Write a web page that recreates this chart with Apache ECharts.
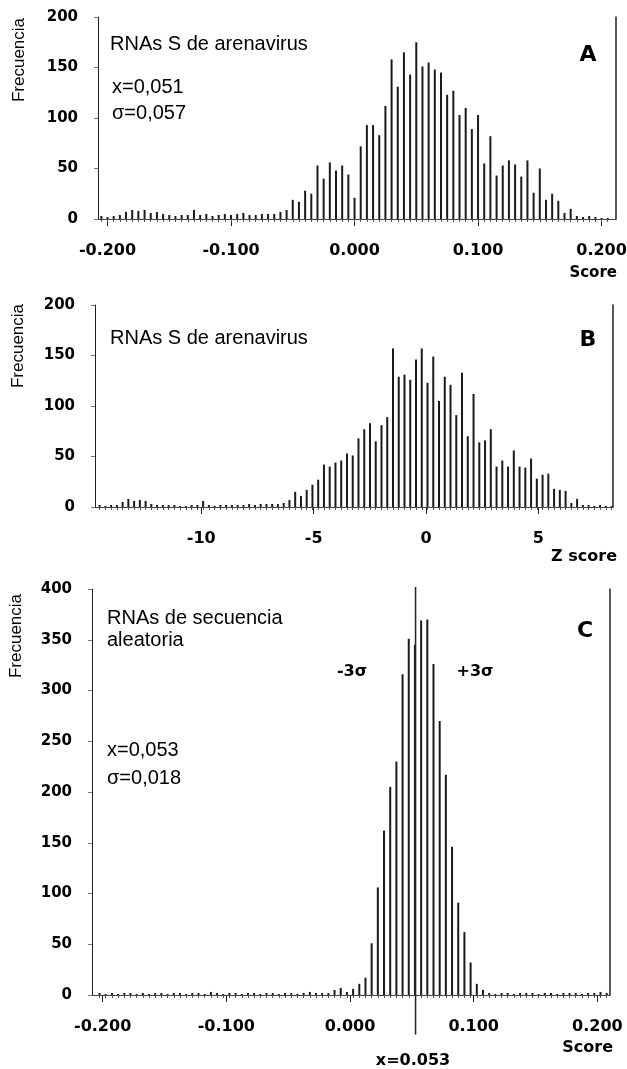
<!DOCTYPE html>
<html>
<head>
<meta charset="utf-8">
<script src="https://cdn.jsdelivr.net/npm/echarts@6.0.0/dist/echarts.min.js"></script>
<style>
    html, body { margin: 0; padding: 0; background: #fff; }
    #chart { width: 627px; height: 1069px; }
</style>
</head>
<body>
<div id="chart"></div>
<script>
// ---- data ----
// panel A: score histogram, arenavirus S RNAs (bins 0.005 wide)
const binStartA = -0.205;
const binStepA = 0.005;
const countsA = [
    3, 2, 3, 4, 7, 9, 8, 9, 6, 7,
    5, 4, 3, 4, 4, 9, 4, 5, 3, 4,
    5, 4, 5, 6, 4, 4, 5, 5, 5, 7,
    9, 19, 17, 28, 25, 53, 40, 56, 48, 53,
    44, 21, 72, 93, 93, 83, 112, 158, 131, 165,
    143, 175, 151, 155, 148, 145, 123, 127, 103, 110,
    89, 103, 55, 82, 43, 53, 58, 54, 42, 58,
    26, 50, 19, 25, 18, 6, 10, 3, 2, 3,
    2, 1, 1
];

// panel B: Z score histogram, arenavirus S RNAs
const binStartB = -14.526;
const binStepB = 0.256;
const countsB = [
    2, 1, 2, 2, 5, 8, 6, 7, 6, 3,
    2, 2, 2, 2, 1, 1, 2, 2, 6, 2,
    1, 2, 2, 2, 2, 2, 3, 2, 3, 3,
    3, 3, 4, 7, 15, 11, 17, 22, 27, 42,
    40, 44, 46, 53, 51, 68, 77, 83, 65, 81,
    89, 157, 129, 131, 126, 146, 157, 123, 149, 105,
    129, 121, 91, 133, 70, 112, 64, 66, 77, 40,
    46, 40, 56, 40, 39, 48, 28, 32, 33, 18,
    17, 16, 4, 8, 2, 2, 1, 2, 1, 1
];

// panel C: score histogram, random sequence RNAs
const binStartC = -0.2025;
const binStepC = 0.005;
const countsC = [
    2, 1, 2, 1, 2, 2, 1, 2, 1, 2,
    2, 1, 2, 2, 1, 2, 2, 1, 3, 2,
    1, 2, 2, 1, 2, 2, 1, 2, 2, 1,
    2, 2, 1, 2, 3, 2,
    2, 2, 5, 7, 3, 6, 11, 17, 51, 106,
    162, 205, 230, 316, 351, 345, 369, 370, 326, 270,
    217, 146, 91, 62, 32, 11, 5,
    2, 1, 2, 2, 1, 2, 2, 2, 1, 2,
    2, 1, 2, 2, 2, 1, 2, 2, 3, 2
];
const meanC = 0.053;
const meanLineSpanC = [402, -39];

// tick labels
const scoreTicks = [-0.2, -0.1, 0, 0.1, 0.2];
const scoreTickLabels = ['-0.200', '-0.100', '0.000', '0.100', '0.200'];
const zTicks = [-10, -5, 0, 5];
const zTickLabels = ['-10', '-5', '0', '5'];

// ---- helpers ----
const TICK_FONT = '"DejaVu Sans", sans-serif';
const TEXT_FONT = '"Liberation Sans", Arial, sans-serif';

function binCentres(start, step, n) {
    return Array.from({ length: n }, (_, i) => +(start + i * step).toFixed(4));
}

function pairs(xs, ys) {
    return xs.map((x, i) => [x, ys[i]]);
}

function labelFor(values, labels) {
    return v => {
        let i = values.findIndex(t => Math.abs(t - v) < 1e-9);
        return i >= 0 ? labels[i] : '';
    };
}

const xsA = binCentres(binStartA, binStepA, countsA.length);
const xsB = binCentres(binStartB, binStepB, countsB.length);
const xsC = binCentres(binStartC, binStepC, countsC.length);

// main x axis (labels + long ticks) and a second one carrying one short tick per bin
function xAxes(g, min, max, ticks, labels, bins) {
    return [{
        type: 'value', gridIndex: g, min: min, max: max, position: 'bottom',
        axisLine: { show: true, onZero: false, lineStyle: { color: '#444', width: 1 } },
        axisTick: { show: true, customValues: ticks, length: 7, lineStyle: { color: '#222' } },
        axisLabel: {
            customValues: ticks, formatter: labelFor(ticks, labels), margin: 24,
            fontFamily: TICK_FONT, fontWeight: 'bold', fontSize: 16, color: '#000'
        },
        splitLine: { show: false }
    }, {
        type: 'value', gridIndex: g, min: min, max: max, position: 'bottom',
        axisLine: { show: false, onZero: false },
        axisTick: { show: true, customValues: bins, length: 3, lineStyle: { color: '#555' } },
        axisLabel: { show: false },
        splitLine: { show: false }
    }];
}

function yAxes(g, max) {
    return [{
        type: 'value', gridIndex: g, min: 0, max: max, interval: 50, position: 'left',
        axisLine: { show: true, onZero: false, lineStyle: { color: '#222', width: 1 } },
        axisTick: { show: true, length: 4, lineStyle: { color: '#777' } },
        axisLabel: { margin: 20, fontFamily: TICK_FONT, fontWeight: 'bold', fontSize: 15, color: '#000' },
        splitLine: { show: false }
    }, {
        type: 'value', gridIndex: g, min: 0, max: max, position: 'right',
        axisLine: { show: true, onZero: false, lineStyle: { color: '#222', width: 1.5 } },
        axisTick: { show: false },
        axisLabel: { show: false },
        splitLine: { show: false }
    }];
}

function bars(g, data) {
    return {
        type: 'bar', xAxisIndex: g * 2, yAxisIndex: g * 2, data: data,
        barWidth: 2, itemStyle: { color: '#1a1a1a' }, silent: true
    };
}

function text(x, y, str, opts) {
    return {
        type: 'text', x: x, y: y, silent: true, rotation: (opts && opts.rotation) || 0,
        style: Object.assign({
            text: str, fill: '#000', fontFamily: TEXT_FONT, fontSize: 20,
            align: 'left', verticalAlign: 'middle'
        }, opts && opts.style)
    };
}

const bold = (size, align) => ({ fontFamily: TICK_FONT, fontWeight: 'bold', fontSize: size, align: align || 'center' });

// ---- chart ----
const chart = echarts.init(document.getElementById('chart'), null, { renderer: 'canvas' });

chart.setOption({
    animation: false,
    backgroundColor: '#fff',
    grid: [
        { left: 98, right: 11, top: 17, bottom: 850, outerBoundsMode: 'none' },
        { left: 95, right: 14, top: 305, bottom: 562, outerBoundsMode: 'none' },
        { left: 92, right: 17, top: 589, bottom: 74, outerBoundsMode: 'none' }
    ],
    xAxis: [
        ...xAxes(0, -0.2077, 0.2117, scoreTicks, scoreTickLabels, xsA),
        ...xAxes(1, -14.73, 8.32, zTicks, zTickLabels, xsB),
        ...xAxes(2, -0.2086, 0.2102, scoreTicks, scoreTickLabels, xsC)
    ],
    yAxis: [
        ...yAxes(0, 200),
        ...yAxes(1, 200),
        ...yAxes(2, 400)
    ],
    series: [
        bars(0, pairs(xsA, countsA)),
        bars(1, pairs(xsB, countsB)),
        bars(2, pairs(xsC, countsC)),
        {
            // mean line of panel C, runs past the axis down to its label
            type: 'line', xAxisIndex: 4, yAxisIndex: 4, clip: false, silent: true,
            data: meanLineSpanC.map(v => [meanC, v]),
            symbol: 'none', lineStyle: { color: '#222', width: 1.5 }
        }
    ],
    graphic: [
        // axis titles
        text(19, 60, 'Frecuencia', { rotation: Math.PI / 2, style: { align: 'center', fontSize: 17 } }),
        text(18, 346, 'Frecuencia', { rotation: Math.PI / 2, style: { align: 'center', fontSize: 17 } }),
        text(16, 636, 'Frecuencia', { rotation: Math.PI / 2, style: { align: 'center', fontSize: 17 } }),
        text(617, 273, 'Score', { style: bold(15, 'right') }),
        text(617, 557, 'Z score', { style: bold(16, 'right') }),
        text(613, 1048, 'Score', { style: bold(16, 'right') }),

        // panel A
        text(110, 44, 'RNAs S de arenavirus'),
        text(112, 87, 'x=0,051'),
        text(112, 113, 'σ=0,057'),
        text(588, 55, 'A', { style: bold(22) }),

        // panel B
        text(110, 338, 'RNAs S de arenavirus'),
        text(588, 340, 'B', { style: bold(22) }),

        // panel C
        text(107, 618, 'RNAs de secuencia'),
        text(107, 640, 'aleatoria'),
        text(107, 750, 'x=0,053'),
        text(107, 778, 'σ=0,018'),
        text(585, 631, 'C', { style: bold(22) }),
        text(352, 672, '-3σ', { style: bold(16) }),
        text(475, 672, '+3σ', { style: bold(16) }),
        text(413, 1061, 'x=0.053', { style: bold(16) })
    ]
});
</script>
</body>
</html>
